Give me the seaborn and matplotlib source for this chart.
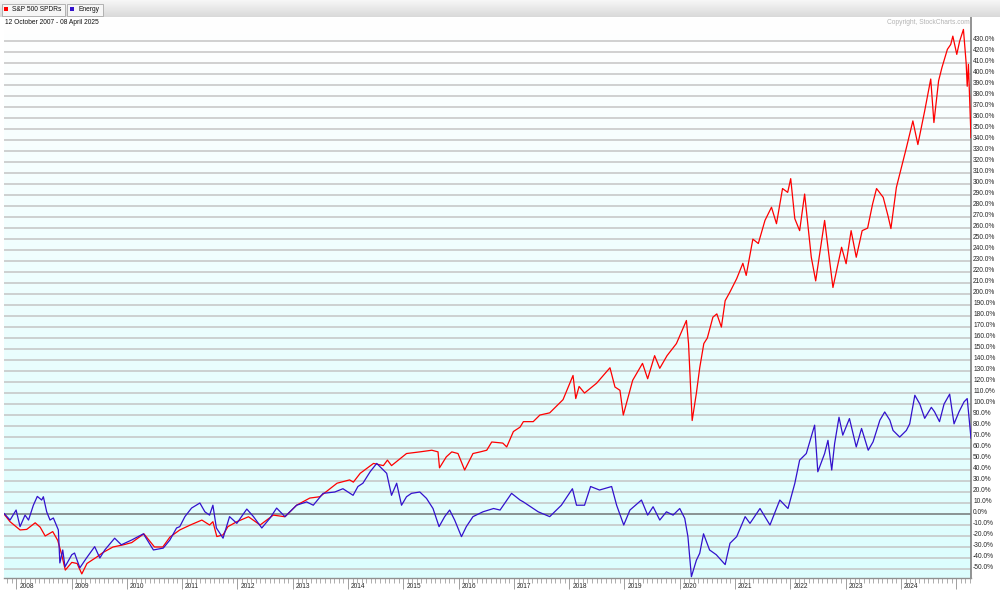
import pandas as pd
import numpy as np
import seaborn as sns
import matplotlib.pyplot as plt
from matplotlib.colors import LinearSegmentedColormap
from matplotlib.patches import Rectangle
from matplotlib.ticker import FuncFormatter
from matplotlib.transforms import ScaledTranslation

# percent change since 12 Oct 2007
spy_dates = [
    '2007-10-12', '2007-11-21', '2008-01-26', '2008-03-10', '2008-05-05', '2008-06-07',
    '2008-07-10', '2008-08-29', '2008-10-01', '2008-10-27', '2008-11-20', '2009-01-02',
    '2009-02-06', '2009-03-09', '2009-04-12', '2009-06-17', '2009-07-27', '2009-10-01',
    '2009-12-09', '2010-02-02', '2010-04-23', '2010-07-02', '2010-08-26', '2010-10-12',
    '2010-12-16', '2011-02-24', '2011-05-11', '2011-07-01', '2011-07-23', '2011-08-18',
    '2011-09-28', '2011-10-30', '2011-12-28', '2012-03-14', '2012-05-30', '2012-08-25',
    '2012-11-10', '2013-01-26', '2013-04-23', '2013-06-28', '2013-10-20', '2014-01-11',
    '2014-02-05', '2014-03-22', '2014-06-18', '2014-08-22', '2014-09-18', '2014-10-15',
    '2015-01-22', '2015-04-20', '2015-07-08', '2015-08-18', '2015-08-28', '2015-10-12',
    '2015-11-17', '2015-12-28', '2016-02-10', '2016-04-05', '2016-05-23', '2016-07-05',
    '2016-08-07', '2016-10-19', '2016-11-14', '2016-12-28', '2017-02-10', '2017-03-04',
    '2017-05-08', '2017-06-21', '2017-08-25', '2017-11-21', '2018-01-26', '2018-02-13',
    '2018-03-07', '2018-04-12', '2018-07-01', '2018-09-27', '2018-10-30', '2018-12-02',
    '2018-12-24', '2019-02-24', '2019-04-30', '2019-06-03', '2019-07-19', '2019-08-22',
    '2019-10-09', '2019-12-10', '2020-02-14', '2020-02-28', '2020-03-23', '2020-04-20',
    '2020-05-12', '2020-06-08', '2020-07-01', '2020-08-07', '2020-09-02', '2020-10-02',
    '2020-10-27', '2020-11-28', '2021-01-11', '2021-02-21', '2021-03-15', '2021-04-28',
    '2021-06-03', '2021-07-17', '2021-08-29', '2021-10-01', '2021-11-10', '2021-12-14',
    '2022-01-03', '2022-01-30', '2022-03-03', '2022-04-05', '2022-05-19', '2022-06-17',
    '2022-08-15', '2022-10-09', '2022-12-05', '2023-01-04', '2023-02-06', '2023-03-12',
    '2023-04-20', '2023-05-26', '2023-06-28', '2023-07-24', '2023-09-06', '2023-10-08',
    '2023-10-27', '2023-12-02', '2024-01-04', '2024-02-06', '2024-03-20', '2024-04-22',
    '2024-06-06', '2024-07-16', '2024-08-06', '2024-09-06', '2024-09-28', '2024-11-03',
    '2024-11-25', '2024-12-09', '2025-01-04', '2025-01-23', '2025-02-17', '2025-03-07',
    '2025-03-14', '2025-03-22', '2025-04-08',
]
spy_pct = [
    0, -7, -14.5, -14, -8, -12,
    -20, -16, -24, -37, -51, -44,
    -45, -54.5, -45, -39, -35, -30,
    -28, -26, -18, -30, -30, -21,
    -14.5, -10, -5.5, -10, -7, -20.5,
    -19, -11.5, -7, -2.5, -10, -1,
    -2.5, 8, 14.5, 15.7, 28, 31,
    29, 37, 46, 44, 49, 44,
    55, 56.5, 58, 56.5, 42, 52,
    56.5, 55, 40, 55, 56.5, 58,
    65.5, 64.5, 61, 75, 79, 84,
    84, 90, 92, 104, 126, 105,
    116, 110, 119, 133, 115.5, 112.5,
    90, 121.6, 137, 123, 144, 132.5,
    144, 155, 176, 155, 85, 110,
    133, 155, 160, 179, 182, 170,
    194, 202, 214, 228, 217, 250,
    246, 267, 279, 264, 296, 292.5,
    305, 268.6, 257.7, 291, 233.5, 212,
    267, 206, 242.6, 227.6, 257.7, 233.5,
    257.7, 260, 282, 296, 288, 271,
    259.6, 297, 315, 333, 357.5, 336,
    366.6, 395.6, 356, 394, 406, 422.6,
    427, 434.6, 418, 430, 440.7, 410,
    389, 409, 342,
]

energy_dates = [
    '2007-10-12', '2007-11-21', '2007-12-31', '2008-01-26', '2008-02-28', '2008-03-22',
    '2008-04-23', '2008-05-19', '2008-06-17', '2008-06-28', '2008-07-20', '2008-08-11',
    '2008-09-02', '2008-10-05', '2008-10-15', '2008-11-03', '2008-11-18', '2009-01-02',
    '2009-01-20', '2009-02-24', '2009-04-09', '2009-06-02', '2009-07-06', '2009-08-08',
    '2009-10-12', '2009-11-25', '2010-02-02', '2010-04-20', '2010-06-25', '2010-08-29',
    '2010-10-12', '2010-11-25', '2010-12-16', '2011-01-19', '2011-03-04', '2011-04-28',
    '2011-05-31', '2011-07-01', '2011-07-23', '2011-08-15', '2011-09-28', '2011-11-10',
    '2011-12-28', '2012-03-03', '2012-04-16', '2012-06-10', '2012-08-04', '2012-09-16',
    '2012-11-10', '2013-01-26', '2013-04-02', '2013-05-16', '2013-07-20', '2013-10-05',
    '2013-11-28', '2014-02-03', '2014-03-07', '2014-04-09', '2014-05-27', '2014-07-09',
    '2014-08-11', '2014-09-13', '2014-10-15', '2014-11-18', '2014-12-20', '2015-01-22',
    '2015-02-24', '2015-04-20', '2015-06-03', '2015-07-16', '2015-08-25', '2015-10-01',
    '2015-11-03', '2015-12-06', '2016-01-20', '2016-02-21', '2016-04-05', '2016-06-10',
    '2016-08-19', '2016-10-01', '2016-12-16', '2017-02-10', '2017-03-04', '2017-05-08',
    '2017-06-10', '2017-08-25', '2017-11-10', '2018-01-22', '2018-02-18', '2018-04-12',
    '2018-05-22', '2018-07-20', '2018-10-08', '2018-11-10', '2018-12-27', '2019-02-06',
    '2019-04-23', '2019-06-03', '2019-07-09', '2019-08-22', '2019-10-05', '2019-11-18',
    '2020-01-01', '2020-02-03', '2020-02-24', '2020-03-18', '2020-04-20', '2020-05-12',
    '2020-06-06', '2020-07-16', '2020-08-29', '2020-10-27', '2020-11-28', '2021-01-11',
    '2021-03-08', '2021-04-09', '2021-06-14', '2021-08-19', '2021-10-23', '2021-12-16',
    '2022-01-30', '2022-03-03', '2022-04-16', '2022-06-10', '2022-07-01', '2022-08-15',
    '2022-09-06', '2022-10-01', '2022-10-20', '2022-11-18', '2022-12-13', '2023-01-26',
    '2023-03-12', '2023-04-16', '2023-05-30', '2023-07-01', '2023-08-15', '2023-09-16',
    '2023-10-20', '2023-11-10', '2023-12-24', '2024-02-06', '2024-02-28', '2024-04-02',
    '2024-05-05', '2024-06-06', '2024-07-20', '2024-08-10', '2024-09-12', '2024-10-12',
    '2024-11-18', '2024-12-17', '2025-01-19', '2025-02-21', '2025-03-14', '2025-04-08',
]
energy_pct = [
    0.6, -5.5, 3.6, -11.5, -1, -5.5,
    8, 16, 12.7, 15.7, 2, -5.5,
    -3.6, -14.5, -44.5, -32.7, -48, -37,
    -35.5, -49, -40, -29.7, -40, -32.7,
    -22, -28, -23.6, -18, -32.7, -31,
    -23.6, -12.7, -11.5, -2.4, 5.4, 10,
    2, -1, 8, -12.7, -22, -2.4,
    -8.5, 4.5, -2.4, -12.7, -3.6, 5.4,
    -2.4, 8, 11, 8, 18.8, 20,
    23, 17, 25, 28, 38.5, 46,
    41.5, 37, 17, 28, 8, 15.7,
    18.8, 20, 14.2, 5, -11.5, -2.4,
    3.6, -5.5, -20.6, -11.5, -2.4, 2,
    5, 3.6, 18.8, 12.7, 11, 5,
    2, -2.4, 8, 23, 8, 8,
    25, 21.8, 25, 8, -10, 3.6,
    12.7, -1, 6.6, -5.5, 2, -1,
    5, -4, -20.6, -57, -42, -35.7,
    -18, -32.7, -37, -46, -26.6, -20.6,
    -2.4, -8.5, 5, -10, 12.7, 5,
    27.8, 49, 55, 80.8, 38.4, 55,
    67, 40, 64, 88, 71.7, 86.8,
    61, 77.8, 58, 65.6, 85.3, 92.8,
    85.3, 76, 70, 76, 82, 108,
    100, 87, 97, 93, 84, 100,
    109, 82, 93, 102, 105, 68.7,
]

series_names = ['S&P 500 SPDRs', 'Energy']
series_colors = ['#ff0000', '#3311cc']
years = list(range(2008, 2026))

df = pd.concat([
    pd.DataFrame({'date': pd.to_datetime(spy_dates), 'pct': spy_pct, 'series': series_names[0]}),
    pd.DataFrame({'date': pd.to_datetime(energy_dates), 'pct': energy_pct, 'series': series_names[1]}),
])

sns.set_style('white')
plt.rcParams['font.family'] = ['Liberation Sans', 'DejaVu Sans']

W, H = 1000, 594
fig = plt.figure(figsize=(W / 100, H / 100), dpi=100)
ax = fig.add_axes([4 / W, 1 - 578 / H, 967 / W, 561 / H])

sns.lineplot(data=df, x='date', y='pct', hue='series', hue_order=series_names,
             palette=dict(zip(series_names, series_colors)), lw=0.9,
             legend=False, ax=ax, zorder=3)

x0, x1 = pd.Timestamp('2007-10-12'), pd.Timestamp('2025-04-08')
y0, y1 = -58.2, 452

# white -> light cyan background
bg = LinearSegmentedColormap.from_list('bg', ['#ffffff', '#dcfdfd'])
import matplotlib.dates as mdates
ax.imshow(np.linspace(1, 0, 256).reshape(-1, 1), cmap=bg, aspect='auto', origin='lower',
          extent=[mdates.date2num(x0), mdates.date2num(x1), y0, y1], zorder=0)
ax.set_xlim(x0, x1)
ax.set_ylim(y0, y1)

ax.set_yticks(range(-50, 431, 10))
ax.yaxis.set_major_formatter(FuncFormatter(lambda v, p: f'{v:.1f}%'))
ax.yaxis.tick_right()
ax.grid(axis='y', color='#c4c4c4', lw=1.1, zorder=1)
ax.grid(axis='x', visible=False)
ax.axhline(0, color='#8a9494', lw=1.4, zorder=2)
ax.set_xlabel('')
ax.set_ylabel('')

ax.set_xticks([pd.Timestamp(f'{y}-01-01') for y in years])
ax.set_xticklabels([str(y) for y in years[:-1]] + [''])
ax.set_xticks(pd.date_range('2007-11-01', '2025-04-01', freq='MS'), minor=True)
ax.tick_params(axis='x', which='major', bottom=True, length=8, width=0.7, color='#a0a0a0',
               pad=1, labelsize=4.8)
ax.tick_params(axis='x', which='minor', bottom=True, length=3.5, width=0.6, color='#a0a0a0')
ax.tick_params(axis='y', which='both', length=0, pad=1.5, labelsize=4.8)

for lbl in ax.get_xticklabels():
    lbl.set_horizontalalignment('left')
    lbl.set_transform(lbl.get_transform() + ScaledTranslation(3 / 100, 7 / 100, fig.dpi_scale_trans))
for lbl in ax.get_yticklabels():
    lbl.set_transform(lbl.get_transform() + ScaledTranslation(0, 2.5 / 100, fig.dpi_scale_trans))

for s in ['left', 'top']:
    ax.spines[s].set_visible(False)
ax.spines['right'].set_color('#808080')
ax.spines['bottom'].set_color('#909090')
ax.spines['right'].set_linewidth(1.2)
ax.spines['bottom'].set_linewidth(1.0)

# header bar with legend chips
hax = fig.add_axes([0, 1 - 17 / H, 1, 17 / H])
hax.imshow(np.linspace(0, 1, 64).reshape(-1, 1),
           cmap=LinearSegmentedColormap.from_list('hd', ['#f7f7f7', '#d9d9d9']),
           aspect='auto', extent=[0, W, 17, 0])
hax.set_xlim(0, W)
hax.set_ylim(17, 0)
hax.axis('off')
chips = [(1.7, 65, 4, series_names[0]), (66.7, 103, 70, series_names[1])]
for (bx0, bx1, sq, name), col in zip(chips, series_colors):
    hax.add_patch(Rectangle((bx0, 4), bx1 - bx0, 12, facecolor='#f6f6f6',
                            edgecolor='#a8a8a8', lw=0.6))
    hax.add_patch(Rectangle((sq, 7.3), 4, 4, facecolor=col, edgecolor='none'))
    hax.text(sq + 8.3, 9.8, name, va='center', ha='left', fontsize=4.8, color='#111111')

fig.text(5 / W, 1 - 22.5 / H, '12 October 2007 - 08 April 2025', fontsize=4.8,
         va='center', ha='left', color='#111111')
fig.text(970 / W, 1 - 22.5 / H, 'Copyright, StockCharts.com', fontsize=4.8,
         va='center', ha='right', color='#b4b4b4')

fig.savefig('out.png', dpi=100)
